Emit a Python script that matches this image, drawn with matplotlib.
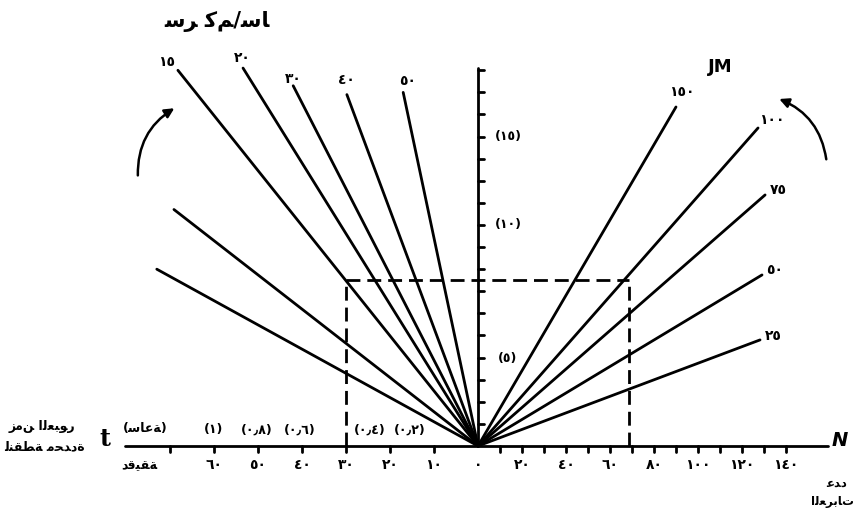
import matplotlib.pyplot as plt
from matplotlib.patches import FancyArrowPatch

# left quadrant: travel time t (minutes) against distance (km), one ray per speed
speeds = [15, 20, 30, 40, 50]
speed_end_t = [68.2, 53.4, 42.0, 29.8, 17.0]
speed_end_km = [17.0, 17.1, 16.3, 15.9, 16.0]
# two unlabelled rays below the 15 km/h one
extra_end_t = [69.1, 73.0]
extra_end_km = [10.7, 8.0]

# right quadrant: number of vehicles N against distance (km), one ray per spacing
spacings = [150, 100, 75, 50, 25]
spacing_end_n = [90.0, 127.3, 130.5, 129.1, 128.2]
spacing_end_km = [15.34, 14.39, 11.36, 7.74, 4.80]

# worked example: 15 km/h for 30 minutes -> 7.5 km
example_t = 30
example_km = 7.5
example_n = 68.6

time_ticks = [10, 20, 30, 40, 50, 60, 70]
time_labels = ['١٠', '٢٠', '٣٠', '٤٠', '٥٠', '٦٠']
count_ticks = [10, 20, 30, 40, 50, 60, 70, 80, 90, 100, 110, 120, 130, 140]
count_labels = ['٢٠', '٤٠', '٦٠', '٨٠', '١٠٠', '١٢٠', '١٤٠']
count_label_at = [20, 40, 60, 80, 100, 120, 140]
km_ticks = list(range(1, 18))
km_labels = ['(٥)', '(١٠)', '(١٥)']
km_label_at = [3.95, 10.0, 14.0]
hour_labels = ['(١)', '(٠٫٨)', '(٠٫٦)', '(٠٫٤)', '(٠٫٢)']
hour_label_at = [60.2, 50.2, 40.5, 24.5, 15.5]

ar_digits = str.maketrans('0123456789', '٠١٢٣٤٥٦٧٨٩')

# contextual Arabic letter forms: isolated, final, initial, medial
FORMS = {
    'ا': ('\ufe8d', '\ufe8e', None, None),
    'ب': ('\ufe8f', '\ufe90', '\ufe91', '\ufe92'),
    'ة': ('\ufe93', '\ufe94', None, None),
    'ت': ('\ufe95', '\ufe96', '\ufe97', '\ufe98'),
    'ح': ('\ufea1', '\ufea2', '\ufea3', '\ufea4'),
    'د': ('\ufea9', '\ufeaa', None, None),
    'ر': ('\ufead', '\ufeae', None, None),
    'ز': ('\ufeaf', '\ufeb0', None, None),
    'س': ('\ufeb1', '\ufeb2', '\ufeb3', '\ufeb4'),
    'ط': ('\ufec1', '\ufec2', '\ufec3', '\ufec4'),
    'ع': ('\ufec9', '\ufeca', '\ufecb', '\ufecc'),
    'ق': ('\ufed5', '\ufed6', '\ufed7', '\ufed8'),
    'ك': ('\ufed9', '\ufeda', '\ufedb', '\ufedc'),
    'ل': ('\ufedd', '\ufede', '\ufedf', '\ufee0'),
    'م': ('\ufee1', '\ufee2', '\ufee3', '\ufee4'),
    'ن': ('\ufee5', '\ufee6', '\ufee7', '\ufee8'),
    'و': ('\ufeed', '\ufeee', None, None),
    'ي': ('\ufef1', '\ufef2', '\ufef3', '\ufef4'),
}


def shape(s):
    out = []
    for i, c in enumerate(s):
        if c not in FORMS:
            out.append(c)
            continue
        iso, fin, ini, med = FORMS[c]
        prev = s[i - 1] if i > 0 else ''
        nxt = s[i + 1] if i + 1 < len(s) else ''
        jp = prev in FORMS and FORMS[prev][2] is not None
        jn = nxt in FORMS and ini is not None
        if jp and jn:
            out.append(med)
        elif jp:
            out.append(fin)
        elif jn:
            out.append(ini)
        else:
            out.append(iso)
    return ''.join(out)


def tx(t):
    # minutes to the shared x axis (one minute spans two vehicle steps)
    return -2.0 * t


plt.rcParams['font.family'] = ['DejaVu Sans']
plt.rcParams['font.weight'] = 'bold'

fig = plt.figure(figsize=(8.62, 5.21), dpi=100)
ax = fig.add_axes([0, 0, 1, 1])
ax.set_xlim(-217.27, 174.55)
ax.set_ylim(-3.394, 20.18)
ax.axis('off')

K = dict(color='black', lw=2.0, solid_capstyle='round')

# axes
ax.plot([tx(80.2), 159.1], [0, 0], **K)
ax.plot([0, 0], [0, 17.1], **K)
for t in time_ticks:
    ax.plot([tx(t), tx(t)], [0, -0.27], **K)
for n in count_ticks:
    ax.plot([n, n], [0, -0.27], **K)
for k in km_ticks:
    ax.plot([0, 2.7], [k, k], **K)

# rays
for v, t, d in zip(speeds, speed_end_t, speed_end_km):
    ax.plot([0, tx(t)], [0, d], **K)
for t, d in zip(extra_end_t, extra_end_km):
    ax.plot([0, tx(t)], [0, d], **K)
for s, n, d in zip(spacings, spacing_end_n, spacing_end_km):
    ax.plot([0, n], [0, d], **K)

# ray labels
lab = dict(ha='center', va='center', textcoords='offset pixels', fontsize=10, fontweight='bold')
speed_off = [(-11, 8), (-1, 10), (0, 7), (0, 15), (4, 11)]
for v, t, d, off in zip(speeds, speed_end_t, speed_end_km, speed_off):
    ax.annotate(str(v).translate(ar_digits), (tx(t), d), xytext=off, **lab)
spacing_off = [(6, 15), (14, 8), (13, 5), (13, 5), (13, 4)]
for s, n, d, off in zip(spacings, spacing_end_n, spacing_end_km, spacing_off):
    ax.annotate(str(s).translate(ar_digits), (n, d), xytext=off, **lab)

# dashed example rectangle
D = dict(color='black', lw=2.0, ls=(0, (5, 2.5)))
ax.plot([tx(example_t), example_n], [example_km, example_km], **D)
ax.plot([tx(example_t), tx(example_t)], [0, example_km], **D)
ax.plot([example_n, example_n], [0, example_km], **D)

# tick labels
for t, s in zip(time_ticks, time_labels):
    ax.annotate(s, (tx(t), 0), xytext=(0, -19), **lab)
ax.annotate('٠', (0, 0), xytext=(0, -19), **lab)
for n, s in zip(count_label_at, count_labels):
    ax.annotate(s, (n, 0), xytext=(0, -19), **lab)
for k, s in zip(km_label_at, km_labels):
    ax.annotate(s, (0, k), xytext=(30, 0), **dict(lab, fontsize=9))
for t, s in zip(hour_label_at, hour_labels):
    ax.annotate(s, (tx(t), 0), xytext=(0, 16), **dict(lab, fontsize=9))

# titles and axis names
fig.text(0.252, 0.958, shape('سر كم/سا'), ha='center', va='center', fontsize=15, fontweight='bold')
fig.text(0.835, 0.871, 'JM', ha='center', va='center', fontsize=13, fontweight='bold')
fig.text(0.122, 0.157, 't', ha='center', va='center', fontsize=17, fontweight='bold', family='DejaVu Serif')
fig.text(0.049, 0.181, shape('زمن العبور'), ha='center', va='center', fontsize=9, fontweight='bold')
fig.text(0.052, 0.142, shape('لنقطة محددة'), ha='center', va='center', fontsize=9, fontweight='bold')
fig.text(0.168, 0.177, '(' + shape('ساعة') + ')', ha='center', va='center', fontsize=9, fontweight='bold')
fig.text(0.162, 0.107, shape('دقيقة'), ha='center', va='center', fontsize=9, fontweight='bold')
fig.text(0.974, 0.154, 'N', ha='center', va='center', fontsize=14, fontweight='bold', style='italic')
fig.text(0.970, 0.073, shape('عدد'), ha='center', va='center', fontsize=8.5, fontweight='bold')
fig.text(0.966, 0.037, shape('العربات'), ha='center', va='center', fontsize=8.5, fontweight='bold')

# curved arrows showing the direction the rays sweep
for a, b, rad in [((0.160, 0.658), (0.205, 0.795), -0.3),
                  ((0.959, 0.689), (0.901, 0.812), 0.3)]:
    fig.patches.append(FancyArrowPatch(a, b, transform=fig.transFigure,
                                       connectionstyle=f'arc3,rad={rad}',
                                       arrowstyle='-|>', mutation_scale=14,
                                       lw=1.8, color='black'))

fig.savefig('out.png', dpi=100)
